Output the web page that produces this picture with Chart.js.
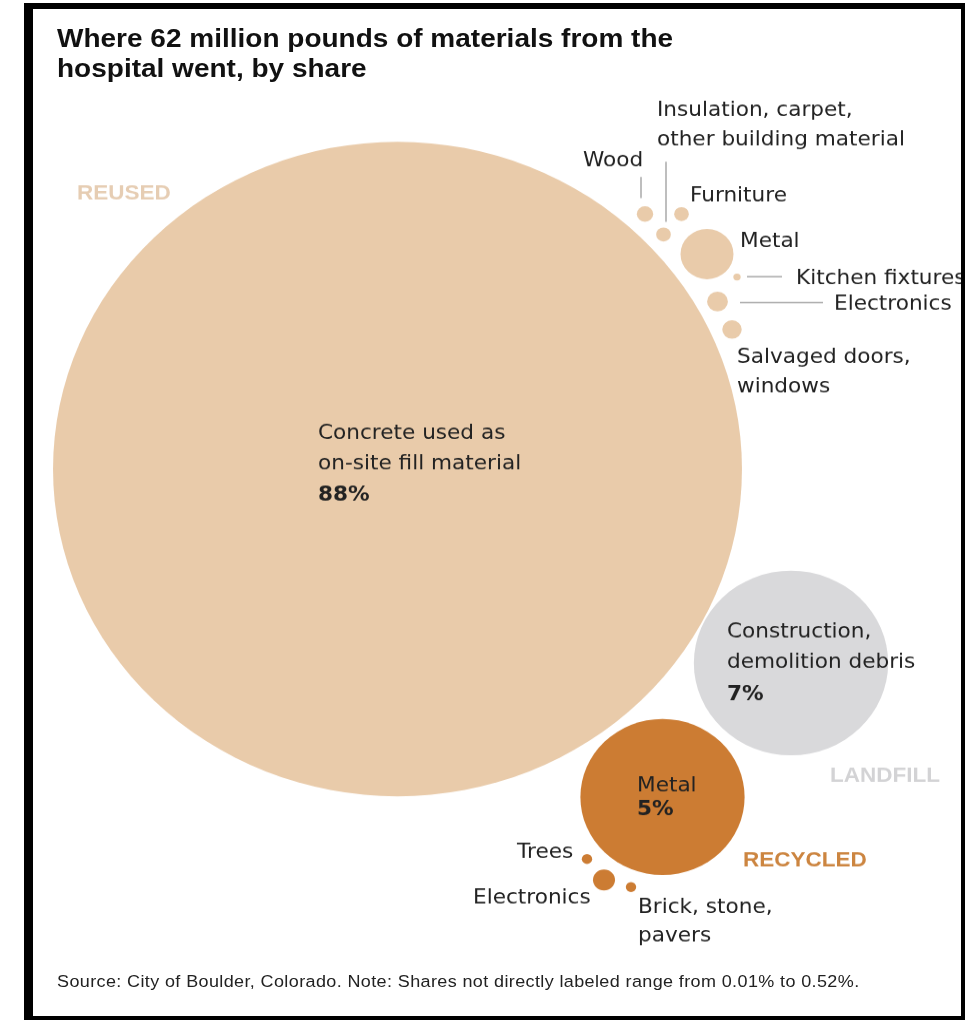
<!DOCTYPE html>
<html>
<head>
<meta charset="utf-8">
<script src="https://cdn.jsdelivr.net/npm/chart.js@4/dist/chart.umd.min.js"></script>
<style>
  body { margin: 0; background: #fff; width: 965px; height: 1020px; overflow: hidden; position: relative; }
  #frame { position: absolute; left: 24px; top: 3px; width: 928px; height: 1007px; border-style: solid; border-color: #000; border-width: 6px 4px 5px 9px; }
  #page { position: absolute; left: 0; top: 0; width: 965px; height: 1074px; transform: scaleY(0.95); transform-origin: 0 0; }
  #chart { position: absolute; left: 0; top: 0; display: block; }
  h1 { position: absolute; left: 57px; top: 24px; margin: 0; font: bold 28px/31.5px "Liberation Sans", Arial, sans-serif; color: #111; z-index: 2; }
  #source { position: absolute; left: 57px; top: 1023px; margin: 0; font: 18px/21px "Liberation Sans", Arial, sans-serif; letter-spacing: 0.38px; color: #222; z-index: 2; }
</style>
</head>
<body>
<div id="page">
  <canvas id="chart" width="965" height="1074" style="width:965px;height:1074px"></canvas>
  <h1>Where 62 million pounds of materials from the<br>hospital went, by share</h1>
  <p id="source">Source: City of Boulder, Colorado. Note: Shares not directly labeled range from 0.01% to 0.52%.</p>
</div>
<div id="frame"></div>
<script>
// shares in percent
const categories = ['REUSED', 'LANDFILL', 'RECYCLED'];

const reusedItems = ['Concrete used as on-site fill material', 'Metal', 'Electronics', 'Salvaged doors, windows',
                     'Wood', 'Insulation, carpet, other building material', 'Furniture', 'Kitchen fixtures'];
const reusedShares = [88, 0.52, 0.08, 0.07, 0.05, 0.04, 0.04, 0.01];

const landfillItems = ['Construction, demolition debris'];
const landfillShares = [7];

const recycledItems = ['Metal', 'Electronics', 'Trees', 'Brick, stone, pavers'];
const recycledShares = [5, 0.09, 0.02, 0.02];

// packed-bubble layout (chart units)
const reusedPos = [[397.5, 493.7], [707, 267.4], [717.5, 317.4], [732, 346.8],
                   [645, 225.3], [663.5, 246.8], [681.5, 225.3], [737, 291.6]];
const landfillPos = [[791, 697.9]];
const recycledPos = [[662.5, 838.9], [604, 926.3], [587, 904.2], [631, 933.7]];

const colors = { REUSED: '#E9CBAA', LANDFILL: '#D9D9DB', RECYCLED: '#CC7C33' };
const tagColors = { REUSED: '#E6CDB3', LANDFILL: '#D3D3D5', RECYCLED: '#CC8540' };

const K = 36.72; // px of radius per sqrt(percent) -> area follows share

function toPoints(shares, pos) {
    return shares.map((s, i) => ({ x: pos[i][0], y: pos[i][1], r: K * Math.sqrt(s) }));
}

const LABEL_FONT = '"DejaVu Sans", sans-serif';
const TAG_FONT = '"Liberation Sans", Arial, sans-serif';

// text next to the bubbles: x, baseline of each line
const labels = [
    { lines: ['Concrete used as', 'on-site fill material', '88%'], x: 318, ys: [462.4, 493.7, 527], boldLast: true },
    { lines: ['Metal'], x: 740, ys: [259.6] },
    { lines: ['Wood'], x: 583, ys: [174.7] },
    { lines: ['Insulation, carpet,', 'other building material'], x: 657, ys: [122.1, 152.6] },
    { lines: ['Furniture'], x: 690, ys: [212.3] },
    { lines: ['Kitchen fixtures'], x: 796, ys: [299] },
    { lines: ['Electronics'], x: 834, ys: [326.3] },
    { lines: ['Salvaged doors,', 'windows'], x: 737, ys: [381.8, 413] },
    { lines: ['Construction,', 'demolition debris', '7%'], x: 727, ys: [670.9, 702.5, 736.8], boldLast: true },
    { lines: ['Metal', '5%'], x: 637, ys: [832.6, 857.9], boldLast: true },
    { lines: ['Trees'], x: 517, ys: [902.8] },
    { lines: ['Electronics'], x: 473, ys: [950.9] },
    { lines: ['Brick, stone,', 'pavers'], x: 638, ys: [961.4, 991] }
];
const tags = [
    { text: 'REUSED', x: 77, y: 209.5 },
    { text: 'LANDFILL', x: 830, y: 822.8 },
    { text: 'RECYCLED', x: 743, y: 911.6 }
];
const leaders = [
    [641, 186.3, 641, 208.4],
    [666, 170.2, 666, 233.4],
    [747, 291.2, 782, 291.2],
    [740, 318.6, 823, 318.6]
];

const labelPlugin = {
    id: 'bubbleLabels',
    afterDatasetsDraw(chart) {
        const ctx = chart.ctx;
        const sx = chart.scales.x, sy = chart.scales.y;
        ctx.save();
        ctx.strokeStyle = '#A8A8A8';
        ctx.lineWidth = 1.5;
        leaders.forEach(l => {
            ctx.beginPath();
            ctx.moveTo(sx.getPixelForValue(l[0]), sy.getPixelForValue(l[1]));
            ctx.lineTo(sx.getPixelForValue(l[2]), sy.getPixelForValue(l[3]));
            ctx.stroke();
        });
        ctx.textAlign = 'left';
        ctx.textBaseline = 'alphabetic';
        ctx.fillStyle = '#222';
        labels.forEach(l => {
            l.lines.forEach((t, i) => {
                const bold = l.boldLast && i === l.lines.length - 1;
                ctx.font = (bold ? 'bold ' : '') + '21.6px ' + LABEL_FONT;
                ctx.fillText(t, sx.getPixelForValue(l.x), sy.getPixelForValue(l.ys[i]));
            });
        });
        ctx.font = 'bold 22.5px ' + TAG_FONT;
        tags.forEach(t => {
            ctx.fillStyle = tagColors[t.text];
            ctx.fillText(t.text, sx.getPixelForValue(t.x), sy.getPixelForValue(t.y));
        });
        ctx.restore();
    }
};

new Chart(document.getElementById('chart').getContext('2d'), {
    type: 'bubble',
    data: {
        datasets: [
            { label: categories[0], data: toPoints(reusedShares, reusedPos), backgroundColor: colors.REUSED, clip: false },
            { label: categories[1], data: toPoints(landfillShares, landfillPos), backgroundColor: colors.LANDFILL, clip: false },
            { label: categories[2], data: toPoints(recycledShares, recycledPos), backgroundColor: colors.RECYCLED, clip: false }
        ]
    },
    options: {
        responsive: false,
        maintainAspectRatio: false,
        animation: false,
        events: [],
        layout: { padding: 0, autoPadding: false },
        elements: { point: { borderWidth: 0, hoverBorderWidth: 0 } },
        scales: {
            x: { type: 'linear', min: 0, max: 965, display: false },
            y: { type: 'linear', min: 0, max: 1074, reverse: true, display: false }
        },
        plugins: { legend: { display: false }, tooltip: { enabled: false } }
    },
    plugins: [labelPlugin]
});
</script>
</body>
</html>
